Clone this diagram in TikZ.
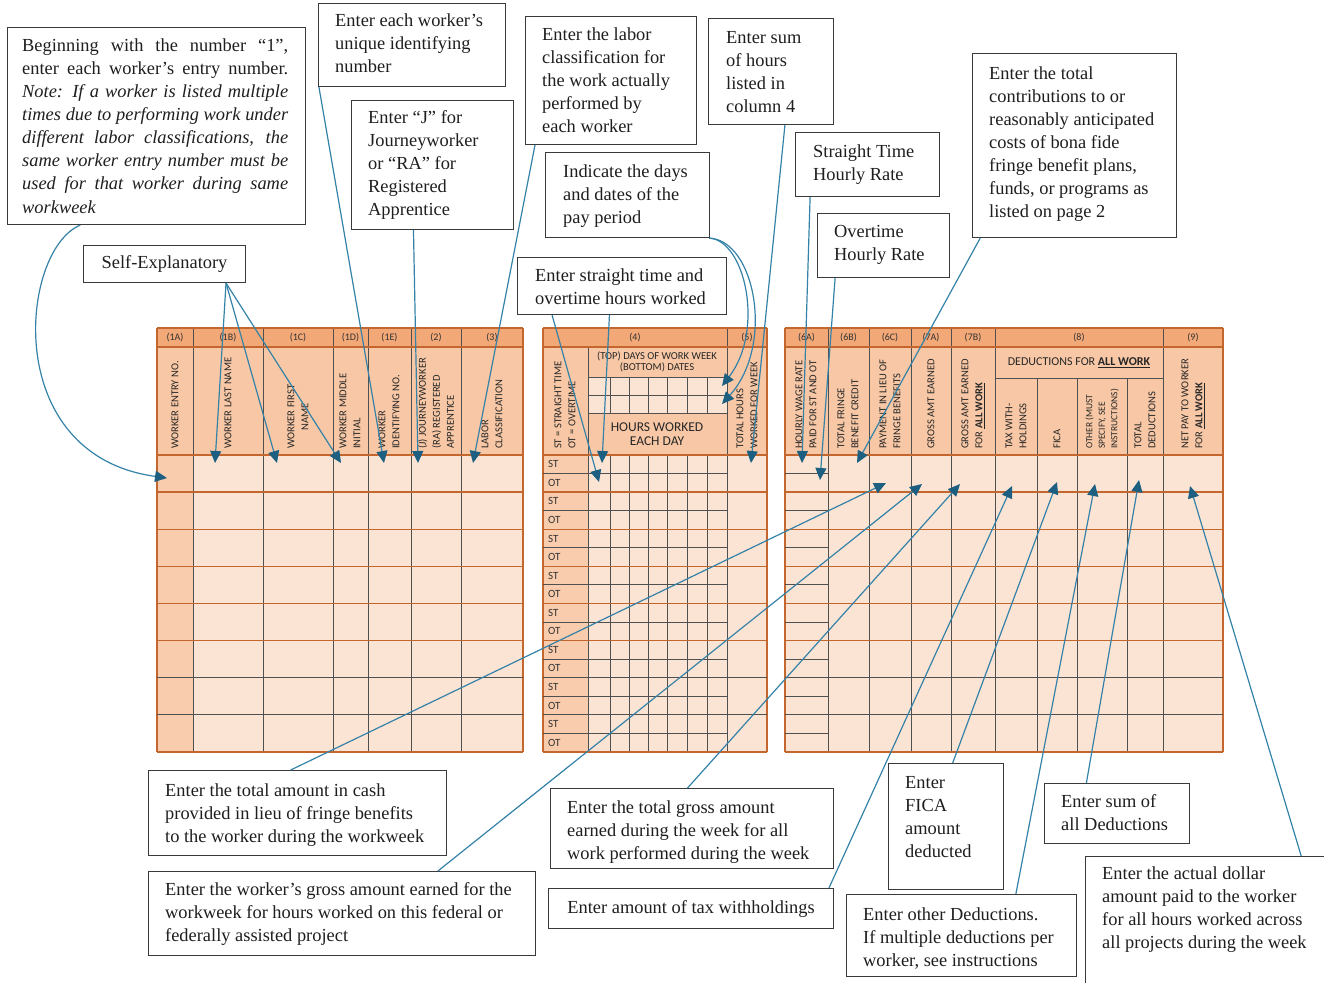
\documentclass[tikz,border=0pt]{standalone}
\usepackage{fontspec}
\setmainfont{Liberation Serif}
\newfontfamily\tbl{Carlito}
\usetikzlibrary{arrows.meta,calc}

\definecolor{hnum}{HTML}{F3A877}
\definecolor{hbody}{HTML}{F8C8A6}
\definecolor{cell}{HTML}{FCE4D5}
\definecolor{cellD}{HTML}{F8CCAD}
\definecolor{orgl}{HTML}{C4672E}
\definecolor{drk}{HTML}{505050}
\definecolor{lineC}{HTML}{3582A8}
\definecolor{tipC}{HTML}{1D5F80}
\definecolor{boxC}{HTML}{3A3A3A}
\definecolor{txtC}{HTML}{1E1E1E}

\tikzset{
 box/.style={draw=boxC, line width=1.1pt, inner sep=0pt, anchor=north west},
 ctext/.style={anchor=north west, inner sep=0pt, align=left, text=txtC, font=\fontsize{18.4}{23.1}\selectfont},
 conn/.style={draw=lineC, line width=1.2pt, -{Triangle[length=12pt,width=11pt,color=tipC]}},
 rot/.style={rotate=90, anchor=west, inner sep=0pt, align=left, text=black!85, font=\tbl\fontsize{10.6}{14}\selectfont},
 num/.style={font=\tbl\fontsize{10}{11}\selectfont, text=black!80, inner sep=0pt},
 stot/.style={font=\tbl\fontsize{11}{12}\selectfont, text=black!80, anchor=west, inner sep=0pt},
 oline/.style={draw=orgl, line width=1.3pt},
 dline/.style={draw=drk, line width=0.9pt},
}

\begin{document}
\begin{tikzpicture}[x=1pt,y=-1pt]
\useasboundingbox (0,0) rectangle (1324,982);

% ---------- table fills ----------
\fill[hnum] (157,328) rectangle (523,347);
\fill[hbody] (157,347) rectangle (523,455);
\fill[cell] (157,455) rectangle (523,752);
\fill[cellD] (157,455) rectangle (193,752);
\fill[hnum] (543,328) rectangle (767,347);
\fill[hbody] (543,347) rectangle (767,455);
\fill[cell] (543,455) rectangle (767,752);
\fill[cellD] (543,455) rectangle (588,752);
\fill[cell] (588,377) rectangle (727,413);
\fill[hnum] (785,328) rectangle (1223,347);
\fill[hbody] (785,347) rectangle (1223,455);
\fill[cell] (785,455) rectangle (1223,752);

% ---------- vertical lines ----------
\foreach \x in {193,263,333,368,411,461} \draw[dline] (\x,328) -- (\x,752);
\foreach \x in {157,523,543,767,785,1223} \draw[oline] (\x,328) -- (\x,752);
\draw[dline] (727,328) -- (727,752);
\draw[dline] (588,347) -- (588,752);
\foreach \x in {610,629,648,667,687,707} {
  \draw[dline] (\x,377) -- (\x,413);
  \draw[dline] (\x,455) -- (\x,752);
}
\foreach \y in {377,395,413} \draw[dline] (588,\y) -- (727,\y);
\foreach \x in {828,869,911,951,995,1163} \draw[dline] (\x,328) -- (\x,752);
\foreach \x in {1037,1077,1127} \draw[dline] (\x,378) -- (\x,752);
\draw[dline] (995,378) -- (1163,378);

% ---------- horizontal lines ----------
\foreach \a/\b in {157/523,543/767,785/1223} {
  \draw[oline] (\a,328) -- (\b,328);
  \draw[oline] (\a,347) -- (\b,347);
  \draw[oline, line width=2pt] (\a,455) -- (\b,455);
  \foreach \k in {1,...,5} \draw[oline] (\a,{455+37.125*\k}) -- (\b,{455+37.125*\k});
  \foreach \k in {6,7} \draw[dline] (\a,{455+37.125*\k}) -- (\b,{455+37.125*\k});
  \draw[oline] (\a,752) -- (\b,752);
}
\foreach \k in {0,...,7} {
  \draw[dline] (543,{455+37.125*\k+18.56}) -- (727,{455+37.125*\k+18.56});
  \draw[dline] (785,{455+37.125*\k+18.56}) -- (828,{455+37.125*\k+18.56});
}

% ---------- column numbers ----------
\node[num] (n1A) at (175,337.5) {(1A)};
\node[num] (n1B) at (228,337.5) {(1B)};
\node[num] (n1C) at (298,337.5) {(1C)};
\node[num] (n1D) at (350.5,337.5) {(1D)};
\node[num] (n1E) at (389.5,337.5) {(1E)};
\node[num] (n2) at (436,337.5) {(2)};
\node[num] (n3) at (492,337.5) {(3)};
\node[num] (n4) at (635,337.5) {(4)};
\node[num] (n5) at (747,337.5) {(5)};
\node[num] (n6A) at (806.5,337.5) {(6A)};
\node[num] (n6B) at (848.5,337.5) {(6B)};
\node[num] (n6C) at (890,337.5) {(6C)};
\node[num] (n7A) at (931,337.5) {(7A)};
\node[num] (n7B) at (973,337.5) {(7B)};
\node[num] (n8) at (1079,337.5) {(8)};
\node[num] (n9) at (1193,337.5) {(9)};

% ---------- rotated header texts ----------
\node[rot] (h1A) at (175,449) {WORKER ENTRY NO.};
\node[rot] (h1B) at (228,449) {WORKER LAST NAME};
\node[rot, align=center] (h1C) at (298,449) {WORKER FIRST\\NAME};
\node[rot] (h1D) at (350,449) {WORKER MIDDLE\\INITIAL};
\node[rot] (h1E) at (389,449) {WORKER\\IDENTIFYING NO.};
\node[rot] (h2) at (436,449) {(J) JOURNEYWORKER\\(RA) REGISTERED\\APPRENTICE};
\node[rot] (h3) at (492,449) {LABOR\\CLASSIFICATION};
\node[rot] (hST) at (565,449) {ST = STRAIGHT TIME\\OT = OVERTIME};
\node[rot] (h5) at (747,449) {TOTAL HOURS\\WORKED FOR WEEK};
\node[rot] (h6A) at (806,449) {HOURLY WAGE RATE\\PAID FOR ST AND OT};
\node[rot] (h6B) at (848,449) {TOTAL FRINGE\\BENEFIT CREDIT};
\node[rot] (h6C) at (890,449) {PAYMENT IN LIEU OF\\FRINGE BENEFITS};
\node[rot] (h7A) at (931,449) {GROSS AMT EARNED};
\node[rot] (h7B) at (973,449) {GROSS AMT EARNED\\FOR \underline{\textbf{ALL WORK}}};
\node[rot] (hTax) at (1016,449) {TAX WITH-\\HOLDINGS};
\node[rot] (hFica) at (1057,449) {FICA};
\node[rot, font=\tbl\fontsize{9.4}{12.5}\selectfont] (hOth) at (1102,449) {OTHER (MUST\\SPECIFY, SEE\\INSTRUCTIONS)};
\node[rot] (hTot) at (1145,449) {TOTAL\\DEDUCTIONS};
\node[rot] (h9) at (1193,449) {NET PAY TO WORKER\\FOR \underline{\textbf{ALL WORK}}};

\node[font=\tbl\fontsize{10.6}{11.5}\selectfont, align=center, text=black!85, inner sep=0pt] (hdays) at (657,362) {(TOP) DAYS OF WORK WEEK\\(BOTTOM) DATES};
\node[font=\tbl\fontsize{13.5}{13.5}\selectfont, align=center, text=black!85, inner sep=0pt] (hhours) at (657,434) {HOURS WORKED\\EACH DAY};
\node[font=\tbl\fontsize{12}{13}\selectfont, text=black!85, inner sep=0pt] (hded) at (1079,363) {DEDUCTIONS FOR \underline{\textbf{ALL WORK}}};

\foreach \k in {0,...,7} {
  \node[stot] (st\k) at (548,{455+37.125*\k+9.3}) {ST};
  \node[stot] (ot\k) at (548,{455+37.125*\k+27.8}) {OT};
}

% ---------- callout boxes ----------
\node[box, minimum width=298pt, minimum height=197pt] (b1) at (7,27) {};
\node[ctext, text width=266pt, align=justify] (t1) at (22,35) {\strut Beginning with the number “1”,\linebreak enter each worker’s entry number.\linebreak \textit{Note: If a worker is listed multiple\linebreak times due to performing work under\linebreak different labor classifications, the\linebreak same worker entry number must be\linebreak used for that worker during same\linebreak workweek}};

\node[box, minimum width=187pt, minimum height=83pt] (b2) at (318,3) {};
\node[ctext] (t2) at (335,10) {\strut Enter each worker’s\\unique identifying\\number};

\node[box, minimum width=162pt, minimum height=129pt] (b3) at (351,100) {};
\node[ctext] (t3) at (368,107) {\strut Enter “J” for\\Journeyworker\\or “RA” for\\Registered\\Apprentice};

\node[box, minimum width=171pt, minimum height=128pt] (b4) at (525,16) {};
\node[ctext] (t4) at (542,24) {\strut Enter the labor\\classification for\\the work actually\\performed by\\each worker};

\node[box, minimum width=125pt, minimum height=106pt] (b5) at (708,18) {};
\node[ctext] (t5) at (726,27) {\strut Enter sum\\of hours\\listed in\\column 4};

\node[box, minimum width=164pt, minimum height=85pt] (b6) at (545,152) {};
\node[ctext] (t6) at (563,161) {\strut Indicate the days\\and dates of the\\pay period};

\node[box, minimum width=209pt, minimum height=57pt] (b7) at (517,257) {};
\node[ctext] (t7) at (535,265) {\strut Enter straight time and\\overtime hours worked};

\node[box, minimum width=144pt, minimum height=64pt] (b8) at (795,132) {};
\node[ctext] (t8) at (813,141) {\strut Straight Time\\Hourly Rate};

\node[box, minimum width=132pt, minimum height=64pt] (b9) at (817,213) {};
\node[ctext] (t9) at (834,221) {\strut Overtime\\Hourly Rate};

\node[box, minimum width=204pt, minimum height=184pt] (b10) at (972,53) {};
\node[ctext] (t10) at (989,63) {\strut Enter the total\\contributions to or\\reasonably anticipated\\costs of bona fide\\fringe benefit plans,\\funds, or programs as\\listed on page 2};

\node[box, minimum width=162pt, minimum height=37pt, font=\fontsize{18.4}{23.1}\selectfont, text=txtC] (b11) at (83,245) {Self-Explanatory};

\node[box, minimum width=298pt, minimum height=85pt] (b12) at (148,770) {};
\node[ctext] (t12) at (165,780) {\strut Enter the total amount in cash\\provided in lieu of fringe benefits\\to the worker during the workweek};

\node[box, minimum width=387pt, minimum height=84pt] (b13) at (148,871) {};
\node[ctext] (t13) at (165,879) {\strut Enter the worker’s gross amount earned for the\\workweek for hours worked on this federal or\\federally assisted project};

\node[box, minimum width=283pt, minimum height=80pt] (b14) at (550,788) {};
\node[ctext] (t14) at (567,797) {\strut Enter the total gross amount\\earned during the week for all\\work performed during the week};

\node[box, minimum width=285pt, minimum height=40pt, font=\fontsize{18.4}{23.1}\selectfont, text=txtC] (b15) at (548,888) {Enter amount of tax withholdings};

\node[box, minimum width=115pt, minimum height=126pt] (b16) at (888,763) {};
\node[ctext] (t16) at (905,772) {\strut Enter\\FICA\\amount\\deducted};

\node[box, minimum width=145pt, minimum height=60pt] (b17) at (1044,783) {};
\node[ctext] (t17) at (1061,791) {\strut Enter sum of\\all Deductions};

\node[box, minimum width=230pt, minimum height=82pt] (b18) at (846,894) {};
\node[ctext] (t18) at (863,904) {\strut Enter other Deductions.\\If multiple deductions per\\worker, see instructions};

\node[box, minimum width=250pt, minimum height=140pt] (b19) at (1085,856) {};
\node[ctext] (t19) at (1102,863) {\strut Enter the actual dollar\\amount paid to the worker\\for all hours worked across\\all projects during the week};

% ---------- connector start points ----------
\coordinate (s1) at ($(b1.south west)!0.245!(b1.south east)$);
\coordinate (s11) at ($(b11.south west)!0.877!(b11.south east)$);
\coordinate (s2) at ($(b2.south west)!0.005!(b2.south east)$);
\coordinate (s3) at ($(b3.south west)!0.383!(b3.south east)$);
\coordinate (s4) at ($(b4.south west)!0.058!(b4.south east)$);
\coordinate (s7a) at ($(b7.south west)!0.167!(b7.south east)$);
\coordinate (s7b) at ($(b7.south west)!0.44!(b7.south east)$);
\coordinate (s6) at ($(b6.south east)+(-1,0)$);
\coordinate (s5) at ($(b5.south west)!0.61!(b5.south east)$);
\coordinate (s8) at ($(b8.south west)!0.104!(b8.south east)$);
\coordinate (s9) at ($(b9.south west)!0.136!(b9.south east)$);
\coordinate (s10) at ($(b10.south west)!0.04!(b10.south east)$);
\coordinate (s12) at ($(b12.north west)!0.477!(b12.north east)$);
\coordinate (s13) at ($(b13.north west)!0.747!(b13.north east)$);
\coordinate (s14) at ($(b14.north west)!0.484!(b14.north east)$);
\coordinate (s15) at ($(b15.north west)!0.982!(b15.north east)$);
\coordinate (s16) at ($(b16.north west)!0.557!(b16.north east)$);
\coordinate (s17) at ($(b17.north west)!0.29!(b17.north east)$);
\coordinate (s18) at ($(b18.north west)!0.735!(b18.north east)$);
\coordinate (s19) at ($(b19.north west)!0.861!(b19.north east)$);

% ---------- connector end points ----------
\coordinate (e1A) at (167,478);
\coordinate (e1B) at (215,463);
\coordinate (e1C) at (277,463);
\coordinate (e1D) at (341,463);
\coordinate (e1E) at (384,463);
\coordinate (e2) at (418,463);
\coordinate (e3) at (473,463);
\coordinate (eST) at (602,463);
\coordinate (eOT) at (599,482);
\coordinate (eD1) at (722,386);
\coordinate (eD2) at (722,404);
\coordinate (e5) at (751,463);
\coordinate (e6A) at (802,463);
\coordinate (e6Ao) at (820,480);
\coordinate (e6B) at (857,463);
\coordinate (e6C) at (886,483);
\coordinate (e7A) at (922,484);
\coordinate (e7B) at (960,484);
\coordinate (eTax) at (1012,486);
\coordinate (eFica) at (1057,482);
\coordinate (eOth) at (1095,484);
\coordinate (eTot) at (1139,480);
\coordinate (eNet) at (1190,486);

% ---------- connectors ----------
\draw[conn] (s1) .. controls (20,250) and (0,455) .. (e1A);
\draw[conn] (s11) -- (e1B);
\draw[conn] (s11) -- (e1C);
\draw[conn] (s11) -- (e1D);
\draw[conn] (s2) -- (e1E);
\draw[conn] (s3) -- (e2);
\draw[conn] (s4) -- (e3);
\draw[conn] (s7a) -- (eOT);
\draw[conn] (s7b) -- (eST);
\draw[conn] (s6) .. controls (745,240) and (765,330) .. (eD1);
\draw[conn] (s6) .. controls (755,240) and (775,345) .. (eD2);
\draw[conn] (s5) -- (e5);
\draw[conn] (s8) -- (e6A);
\draw[conn] (s9) -- (e6Ao);
\draw[conn] (s10) -- (e6B);
\draw[conn] (s12) -- (e6C);
\draw[conn] (s13) -- (e7A);
\draw[conn] (s14) -- (e7B);
\draw[conn] (s15) -- (eTax);
\draw[conn] (s16) -- (eFica);
\draw[conn] (s18) -- (eOth);
\draw[conn] (s17) -- (eTot);
\draw[conn] (s19) -- (eNet);
\end{tikzpicture}
\end{document}
